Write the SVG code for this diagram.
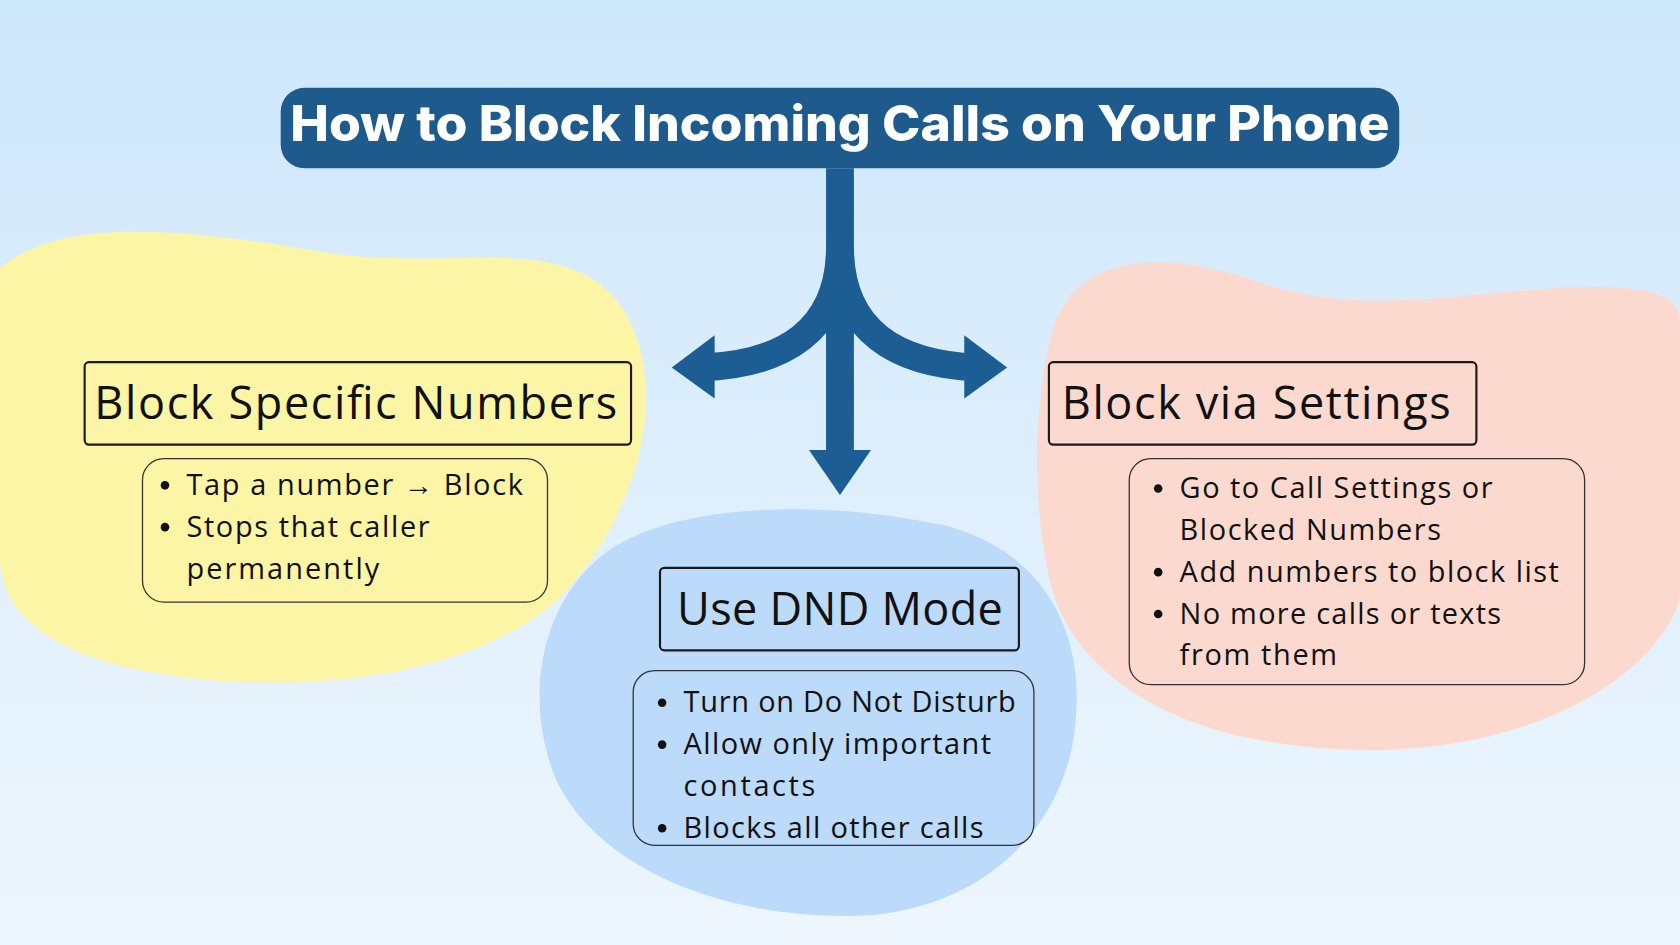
<svg xmlns="http://www.w3.org/2000/svg" width="1680" height="945" viewBox="0 0 1680 945">
<defs>
<linearGradient id="bg" x1="0" y1="0" x2="0" y2="1"><stop offset="0" stop-color="#cde7fb"/><stop offset="1" stop-color="#eef6fd"/></linearGradient>
<style>
.h{font-family:"Open Sans","Noto Sans","Liberation Sans",sans-serif;font-size:42px;fill:#111}
.b{font-family:"Open Sans","Noto Sans","Liberation Sans",sans-serif;font-size:27px;fill:#111}
.hb{fill:none;stroke:#1a1a1a;stroke-width:2}
.bb{fill:none;stroke:#333;stroke-width:1.2}
.arr{fill:none;stroke:#1c5d93;stroke-width:26}
.d{fill:#111}
</style>
</defs>
<rect width="1680" height="945" fill="url(#bg)"/>
<g transform="scale(1.0714)">
<path d="M0,250 C60,200 180,215 300,235 C420,255 520,215 575,280 C630,350 600,480 520,560 C430,640 250,650 130,625 C30,605 0,560 0,520 Z" fill="#fdf5a6"/>
<path d="M985,300 C1010,240 1080,230 1180,265 C1280,300 1400,265 1500,268 C1568,270 1568,290 1568,300 L1568,560 C1540,640 1420,700 1280,700 C1130,700 1020,650 985,560 C960,480 965,360 985,300 Z" fill="#fcd9cf"/>
<path d="M560,520 C620,470 760,465 880,490 C980,515 1020,600 1000,700 C980,790 900,855 790,855 C670,855 560,810 520,730 C490,660 500,570 560,520 Z" fill="#bcdafa"/>
<g id="title"><rect x="262" y="82" width="1044" height="75" rx="22" fill="#1f5a8c"/>
<text x="271" y="132" textLength="1026" lengthAdjust="spacingAndGlyphs" font-family="Inter,'Noto Sans',sans-serif" font-weight="800" font-size="46" fill="#fff">How to Block Incoming Calls on Your Phone</text></g>
<g id="connectors">
<path class="arr" d="M784,157 V430"/>
<path class="arr" d="M784,230 C784,310 730,340 655,343"/>
<path class="arr" d="M784,230 C784,310 838,340 912,343"/>
<polygon points="755,420 813,420 784,462" fill="#1c5d93"/>
<polygon points="667,313 627,343 667,372" fill="#1c5d93"/>
<polygon points="900,313 940,343 900,372" fill="#1c5d93"/>
</g>
<g id="n1"><rect class="hb" x="79" y="338" width="510" height="77" rx="4"/>
<text class="h" x="88" y="391" textLength="488">Block Specific Numbers</text>
<rect class="bb" x="133" y="428" width="378" height="134" rx="20"/>
<circle class="d" cx="154" cy="453" r="4"/><circle class="d" cx="154" cy="492" r="4"/>
<text class="b" x="174" y="462" textLength="314">Tap a number → Block</text>
<text class="b" x="174" y="501" textLength="227">Stops that caller</text>
<text class="b" x="174" y="540" textLength="180">permanently</text></g>
<g id="n2"><rect class="hb" x="616" y="530" width="335" height="77" rx="4"/>
<text class="h" x="632" y="583" textLength="304">Use DND Mode</text>
<rect class="bb" x="591" y="626" width="374" height="163" rx="20"/>
<circle class="d" cx="618" cy="656" r="4"/><circle class="d" cx="618" cy="695" r="4"/><circle class="d" cx="618" cy="773" r="4"/>
<text class="b" x="638" y="665" textLength="310">Turn on Do Not Disturb</text>
<text class="b" x="638" y="704" textLength="287">Allow only important</text>
<text class="b" x="638" y="743" textLength="123">contacts</text>
<text class="b" x="638" y="782" textLength="280">Blocks all other calls</text></g>
<g id="n3"><rect class="hb" x="979" y="338" width="399" height="77" rx="4"/>
<text class="h" x="991" y="391" textLength="363">Block via Settings</text>
<rect class="bb" x="1054" y="428" width="425" height="211" rx="20"/>
<circle class="d" cx="1081" cy="456" r="4"/><circle class="d" cx="1081" cy="534" r="4"/><circle class="d" cx="1081" cy="573" r="4"/>
<text class="b" x="1101" y="465" textLength="292">Go to Call Settings or</text>
<text class="b" x="1101" y="504" textLength="244">Blocked Numbers</text>
<text class="b" x="1101" y="543" textLength="354">Add numbers to block list</text>
<text class="b" x="1101" y="582" textLength="300">No more calls or texts</text>
<text class="b" x="1101" y="621" textLength="147">from them</text></g>
</g>
</svg>
